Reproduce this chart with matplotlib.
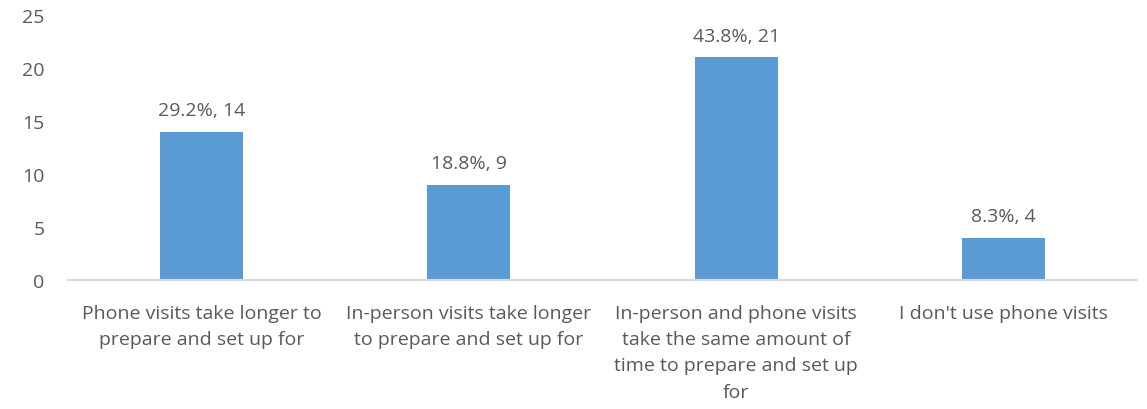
import matplotlib.pyplot as plt
import numpy as np

categories = [
    "Phone visits take longer to\nprepare and set up for",
    "In-person visits take longer\nto prepare and set up for",
    "In-person and phone visits\ntake the same amount of\ntime to prepare and set up\nfor",
    "I don't use phone visits",
]
counts = [14, 9, 21, 4]
percents = [29.2, 18.8, 43.8, 8.3]
yticks = [0, 5, 10, 15, 20, 25]

text_color = "#595959"
bar_color = "#5B9BD5"
fs = 14

plt.rcParams["font.family"] = ["Open Sans", "DejaVu Sans"]

fig = plt.figure(figsize=(11.47, 4.10), dpi=100)
ax = fig.add_axes([68 / 1147, 1 - 281 / 410, (1137 - 68) / 1147, (281 - 16) / 410])

x = np.arange(len(counts))
bars = ax.bar(x, counts, width=0.31, color=bar_color, zorder=2)

for xi, c, p in zip(x, counts, percents):
    ax.annotate(f"{p:.1f}%, {c}", (xi, c), xytext=(0, 9),
                textcoords="offset points", ha="center", va="bottom",
                fontsize=fs, color=text_color)

ax.set_xlim(-0.5, len(counts) - 0.5)
ax.set_ylim(0, 25)
ax.set_yticks(yticks)
ax.set_xticks(x)
ax.set_xticklabels(categories, fontsize=fs, color=text_color, linespacing=1.6)
ax.tick_params(axis="y", length=0, pad=17, labelsize=fs, labelcolor=text_color)
ax.tick_params(axis="x", length=0, pad=17)

for side in ("top", "right", "left"):
    ax.spines[side].set_visible(False)
ax.spines["bottom"].set_color("#D9D9D9")
ax.spines["bottom"].set_linewidth(1.5)

fig.savefig("out.png", dpi=100)
